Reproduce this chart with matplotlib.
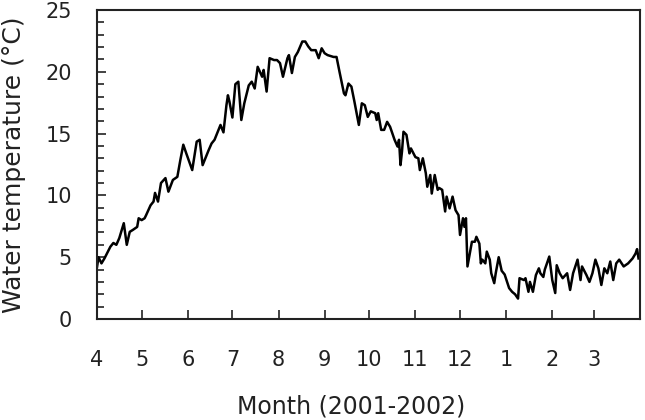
import matplotlib.pyplot as plt
from matplotlib.ticker import MultipleLocator

# days since 1 April 2001
day = [0, 1, 3, 5, 9, 11, 13, 15, 18, 20, 22, 24, 27, 28, 30, 32, 33, 36, 38, 39,
       41, 43, 46, 48, 51, 54, 56, 58, 60, 64, 67, 69, 71, 75, 77, 79, 83, 85, 87, 88,
       89, 91, 93, 95, 97, 99, 102, 104, 106, 108, 111, 112, 114, 116, 119, 121, 123, 125, 128, 129,
       131, 133, 135, 138, 140, 142, 144, 147, 149, 151, 153, 155, 159, 161, 163, 166, 167, 169, 171, 173,
       176, 178, 180, 182, 184, 187, 188, 189, 191, 193, 195, 197, 200, 202, 203, 204, 205, 206, 208, 210,
       211, 214, 216, 217, 219, 221, 222, 224, 225, 227, 229, 230, 232, 234, 235, 237, 239, 241, 243, 244,
       246, 247, 248, 249, 252, 254, 255, 257, 258, 259, 261, 262, 264, 265, 267, 268, 270, 272, 274, 277,
       279, 281, 283, 284, 287, 288, 290, 291, 293, 295, 297, 298, 300, 301, 304, 306, 308, 309, 311, 313,
       316, 318, 320, 323, 325, 326, 329, 331, 333, 335, 337, 339, 341, 343, 345, 347, 349, 351, 354, 357,
       360, 362, 363, 364]
temp = [4.2, 5.0, 4.5, 4.9, 5.85, 6.15, 6.0, 6.55, 7.75, 6.0, 7.05, 7.2, 7.45, 8.15, 8.0, 8.15, 8.4, 9.2, 9.5, 10.2,
        9.5, 11.0, 11.4, 10.3, 11.25, 11.5, 12.85, 14.1, 13.4, 12.05, 14.35, 14.5, 12.45, 13.65, 14.2, 14.5, 15.7, 15.1, 17.3, 18.1,
        17.6, 16.3, 19.0, 19.2, 16.1, 17.45, 18.9, 19.2, 18.65, 20.4, 19.6, 20.15, 18.4, 21.1, 20.95, 20.95, 20.7, 19.6, 21.1, 21.35,
        19.9, 21.2, 21.6, 22.45, 22.45, 22.05, 21.75, 21.75, 21.1, 21.9, 21.5, 21.35, 21.2, 21.2, 20.0, 18.25, 18.1, 19.05, 18.8, 17.6,
        15.7, 17.45, 17.3, 16.35, 16.8, 16.65, 16.1, 16.65, 15.3, 15.3, 15.95, 15.55, 14.5, 13.95, 14.5, 12.45, 13.55, 15.15, 14.9, 13.4,
        13.8, 13.1, 13.0, 12.05, 13.0, 11.8, 10.7, 11.65, 10.15, 11.65, 10.45, 10.6, 10.45, 8.7, 9.9, 8.95, 9.9, 8.8, 8.4, 6.8,
        8.15, 7.45, 8.15, 4.25, 6.25, 6.25, 6.65, 6.1, 4.5, 4.8, 4.5, 5.45, 4.8, 3.7, 2.9, 3.7, 5.0, 3.9, 3.6, 2.5,
        2.2, 2.0, 1.65, 3.3, 3.15, 3.3, 2.2, 3.0, 2.2, 3.55, 4.1, 3.7, 3.4, 4.0, 5.05, 3.15, 2.1, 4.35, 3.7, 3.3,
        3.7, 2.35, 3.7, 4.8, 3.15, 4.25, 3.55, 3.0, 3.7, 4.8, 4.1, 2.75, 4.1, 3.7, 4.65, 3.15, 4.5, 4.8, 4.25, 4.5,
        4.9, 5.3, 5.65, 4.9]

month_start = [0, 30, 61, 91, 122, 153, 183, 214, 244, 275, 306, 334]
month_label = ['4', '5', '6', '7', '8', '9', '10', '11', '12', '1', '2', '3']

fig = plt.figure(figsize=(6.45, 4.2), dpi=100)
ax = fig.add_axes([0.1504, 0.2405, 0.8419, 0.7357])
ax.plot(day, temp, color='black', lw=1.8)

ax.set_xlim(0, 365)
ax.set_ylim(0, 25)
ax.set_xticks(month_start, labels=month_label)
ax.set_yticks(range(0, 26, 5))
ax.yaxis.set_minor_locator(MultipleLocator(1))

ax.tick_params(direction='in', length=6.5, width=1.2, labelsize=15, color='#222222', labelcolor='#222222')
ax.tick_params(axis='y', which='minor', direction='in', length=5, width=1.2, color='#222222')
ax.tick_params(axis='x', pad=22)
ax.tick_params(axis='y', pad=18)
for sp in ax.spines.values():
    sp.set_linewidth(1.5)
    sp.set_color('#222222')

ax.set_xlabel('Month (2001-2002)', fontsize=17, color='#222222')
ax.xaxis.set_label_coords(0.468, -0.243)
ax.set_ylabel('Water temperature (°C)', fontsize=18, color='#222222')
ax.yaxis.set_label_coords(-0.13, 0.5)

fig.savefig('out.png', dpi=100)
plt.close('all')
